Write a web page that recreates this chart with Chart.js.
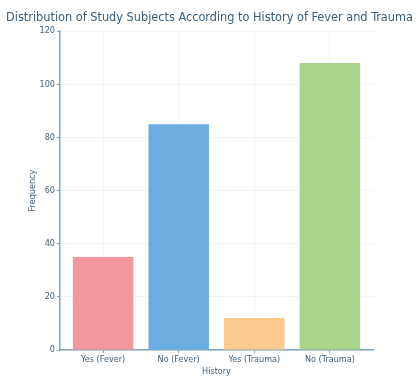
<!DOCTYPE html>
<html>
<head>
<meta charset="utf-8">
<script src="https://cdn.jsdelivr.net/npm/chart.js@4/dist/chart.umd.min.js"></script>
<style>
html,body{margin:0;padding:0;background:#fff;}
#wrap{width:419px;height:377px;position:relative;}
</style>
</head>
<body>
<div id="wrap"><canvas id="c" width="419" height="377"></canvas></div>
<script>
const categories = ["Yes (Fever)", "No (Fever)", "Yes (Trauma)", "No (Trauma)"];
const frequencies = [35, 85, 12, 108];
const barColors = ["#F2979C", "#6CADE1", "#FDCA8D", "#A8D48B"];
const yTicks = [0, 20, 40, 60, 80, 100, 120];

const textColor = "#3f5f7a";
const axisColor = "#7fa4c0";
const fontFam = "DejaVu Sans Condensed";

new Chart(document.getElementById("c"), {
  type: "bar",
  data: {
    datasets: [{
      data: categories.map((c, i) => ({ x: i, y: frequencies[i] })),
      backgroundColor: barColors,
      borderWidth: 0,
      barPercentage: 0.8,
      categoryPercentage: 1.0
    }]
  },
  options: {
    responsive: false,
    animation: false,
    devicePixelRatio: 1,
    layout: { padding: { left: 0, right: 0, top: 0, bottom: 0 } },
    plugins: {
      legend: { display: false },
      tooltip: { enabled: false },
      title: {
        display: true,
        text: "Distribution of Study Subjects According to History of Fever and Trauma",
        color: "#3a5d78",
        font: { family: fontFam, size: 12.6, weight: "normal" },
        padding: { top: 10, bottom: 6 }
      }
    },
    scales: {
      x: {
        type: "linear",
        offset: false,
        min: -0.57,
        max: 3.57,
        afterBuildTicks: (s) => { s.ticks = categories.map((c, i) => ({ value: i })); },
        grid: { display: true, offset: false, color: "rgba(190,215,235,0.25)", drawTicks: true, tickLength: 3, tickColor: axisColor },
        border: { display: true, color: axisColor, width: 1.5 },
        ticks: { color: textColor, font: { family: fontFam, size: 9 }, padding: 1, maxRotation: 0, autoSkip: false,
                 callback: (v) => categories[v] },
        title: { display: true, text: "History", color: textColor, font: { family: fontFam, size: 9 }, padding: { top: 1, bottom: 0 } },
        afterFit: (s) => { s.height = 27; }
      },
      y: {
        min: 0,
        max: 120,
        afterBuildTicks: (s) => { s.ticks = yTicks.map(v => ({ value: v })); },
        grid: { display: true, color: "rgba(190,215,235,0.25)", drawTicks: true, tickLength: 3, tickColor: axisColor },
        border: { display: true, color: axisColor, width: 1.5 },
        ticks: { color: textColor, font: { family: fontFam, size: 9 }, padding: 2 },
        title: { display: true, text: "Frequency", color: textColor, font: { family: fontFam, size: 9 }, padding: { top: 27, bottom: 0 } },
        afterFit: (s) => { s.width = 60; }
      },
      yRight: {
        position: "right",
        display: true,
        grid: { display: false },
        border: { display: false },
        ticks: { display: false },
        afterFit: (s) => { s.width = 46; }
      }
    }
  }
});
</script>
</body>
</html>
